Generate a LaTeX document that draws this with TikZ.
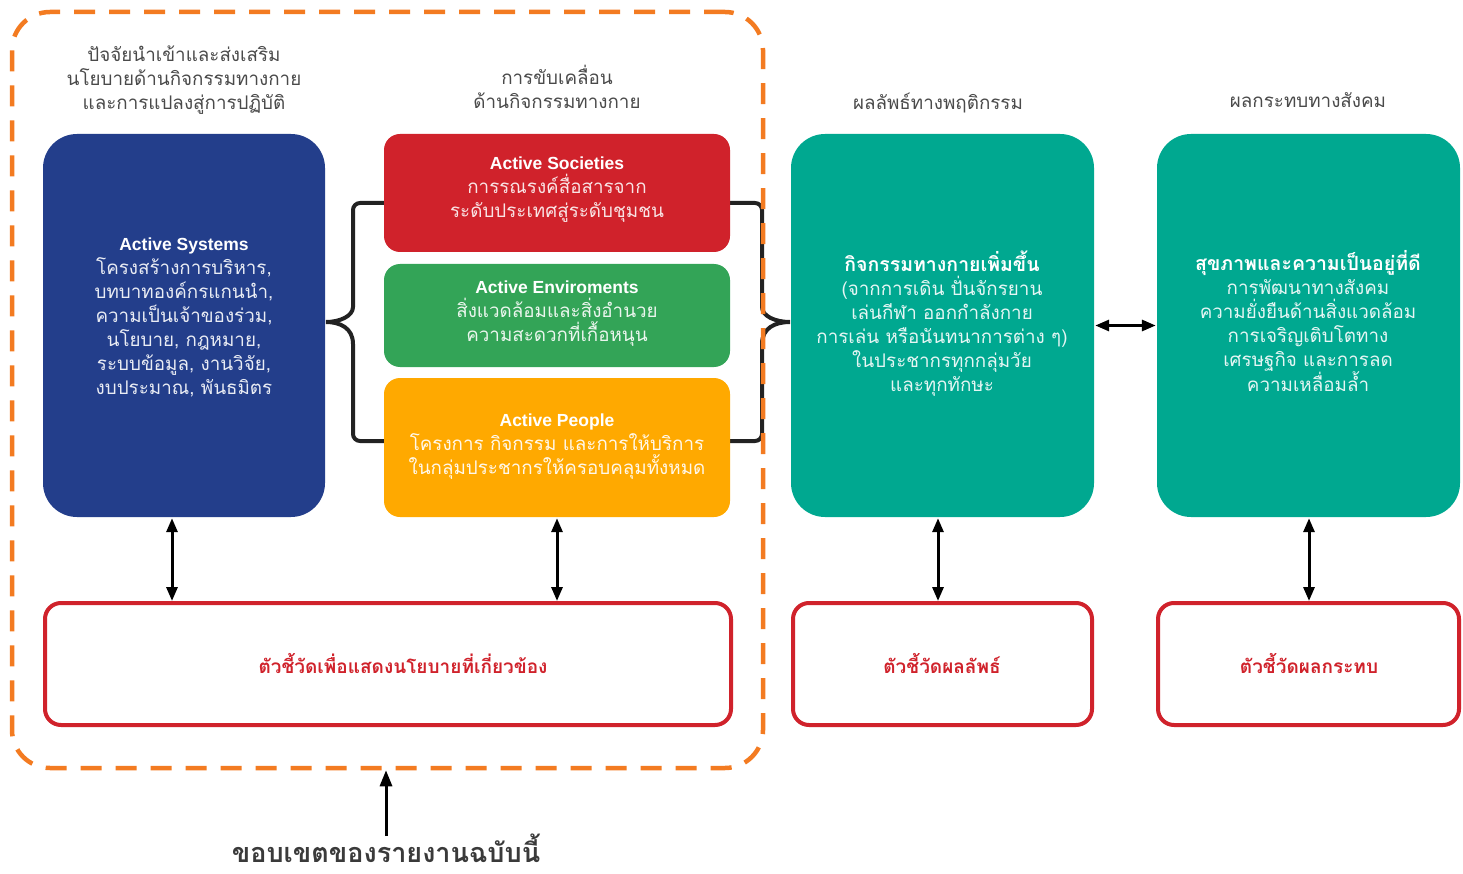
\documentclass[tikz,border=0pt]{standalone}
\usepackage{fontspec}
\setmainfont{Liberation Sans}
\newfontfamily\thai[Script=Thai]{Loma}
\newfontfamily\latinf{Liberation Sans}
\usetikzlibrary{arrows.meta,calc}
\definecolor{cblue}{HTML}{233E8B}
\definecolor{cred}{HTML}{D0222B}
\definecolor{cgreen}{HTML}{33A457}
\definecolor{camber}{HTML}{FFA900}
\definecolor{cteal}{HTML}{00A890}
\definecolor{corange}{HTML}{F37B21}
\definecolor{cgray}{HTML}{4A4A4A}
\definecolor{cdark}{HTML}{3A3A3A}
\definecolor{cbrace}{HTML}{222222}
\newcommand{\ttl}[1]{{\latinf\bfseries\fontsize{17.5}{24}\selectfont\color{white}#1}}
\newcommand{\tttl}[1]{{\bfseries\fontsize{19.5}{24}\selectfont\color{white}#1}}
\tikzset{
  body/.style={font=\thai\fontsize{18.8}{24}\selectfont, align=center, inner sep=0pt},
  fbox/.style={rounded corners=16},
  bigbox/.style={rounded corners=34},
  outbox/.style={draw=cred, line width=4pt, fill=white, rounded corners=16, minimum width=#1, minimum height=122},
  redlab/.style={body, text=cred, font=\thai\bfseries\fontsize{19}{24}\selectfont},
  hdr/.style={font=\thai\fontsize{18.8}{24}\selectfont, text=cgray, align=center},
  brace/.style={draw=cbrace, line width=4pt},
  dbl/.style={{Triangle[length=14pt,width=11pt]}-{Triangle[length=14pt,width=11pt]}, line width=3pt, draw=black},
  frame/.style={draw=corange, line width=4.5pt, dash pattern=on 21pt off 14pt, rounded corners=38}
}
\begin{document}
\begin{tikzpicture}[x=1pt,y=-1pt]
\useasboundingbox (0,0) rectangle (1463,874);
% headers
\node[hdr] (h1) at (184,80) {ปัจจัยนำเข้าและส่งเสริม\\นโยบายด้านกิจกรรมทางกาย\\และการแปลงสู่การปฏิบัติ};
\node[hdr] (h2) at (557,87) {การขับเคลื่อน\\ด้านกิจกรรมทางกาย};
\node[hdr] (h3) at (938,103) {ผลลัพธ์ทางพฤติกรรม};
\node[hdr] (h4) at (1308,100) {ผลกระทบทางสังคม};
% braces
\draw[brace] (384,203) [rounded corners=7] -- (353,203) -- (353,300) [sharp corners] .. controls (353,316) and (340,322) .. (326,322) .. controls (340,322) and (353,328) .. (353,344) [rounded corners=7] -- (353,441) -- (384,441);
\draw[brace] (730,203) [rounded corners=7] -- (762,203) -- (762,300) [sharp corners] .. controls (762,316) and (775,322) .. (790,322) .. controls (775,322) and (762,328) .. (762,344) [rounded corners=7] -- (762,441) -- (730,441);
% frame
\node[frame, minimum width=751, minimum height=756] (frame) at (387.5,390) {};
% boxes
\node[bigbox, fill=cblue, minimum width=282, minimum height=383] (sys) at (184,325.5) {};
\node[body, text=white!90!cblue] (sysT) at (184,317.5)
  {\ttl{Active Systems}\\โครงสร้างการบริหาร,\\บทบาทองค์กรแกนนำ,\\ความเป็นเจ้าของร่วม,\\นโยบาย, กฎหมาย,\\ระบบข้อมูล, งานวิจัย,\\งบประมาณ, พันธมิตร};
\node[fbox, fill=cred, minimum width=346, minimum height=118] (soc) at (557,193) {};
\node[body, text=white!88!cred] (socT) at (557,190)
  {\ttl{Active Societies}\\การรณรงค์สื่อสารจาก\\ระดับประเทศสู่ระดับชุมชน};
\node[fbox, fill=cgreen, minimum width=346, minimum height=103] (env) at (557,315.5) {};
\node[body, text=white!90!cgreen] (envT) at (557,313.5)
  {\ttl{Active Enviroments}\\สิ่งแวดล้อมและสิ่งอำนวย\\ความสะดวกที่เกื้อหนุน};
\node[fbox, fill=camber, minimum width=346, minimum height=139] (ppl) at (557,447.5) {};
\node[body, text=white!92!camber] (pplT) at (557,446.5)
  {\ttl{Active People}\\โครงการ กิจกรรม และการให้บริการ\\ในกลุ่มประชากรให้ครอบคลุมทั้งหมด};
\node[bigbox, fill=cteal, minimum width=303, minimum height=383] (t1) at (942.5,325.5) {};
\node[body, text=white!90!cteal] (t1T) at (942,323.5)
  {\tttl{กิจกรรมทางกายเพิ่มขึ้น}\\(จากการเดิน ปั่นจักรยาน\\เล่นกีฬา ออกกำลังกาย\\การเล่น หรือนันทนาการต่าง ๆ)\\ในประชากรทุกกลุ่มวัย\\และทุกทักษะ};
\node[bigbox, fill=cteal, minimum width=303, minimum height=383] (t2) at (1308.5,325.5) {};
\node[body, text=white!90!cteal] (t2T) at (1308,321)
  {\tttl{สุขภาพและความเป็นอยู่ที่ดี}\\การพัฒนาทางสังคม\\ความยั่งยืนด้านสิ่งแวดล้อม\\การเจริญเติบโตทาง\\เศรษฐกิจ และการลด\\ความเหลื่อมล้ำ};
% indicator boxes
\node[outbox=686] (oa) at (388,664) {};
\node[redlab] (oal) at (403,663) {ตัวชี้วัดเพื่อแสดงนโยบายที่เกี่ยวข้อง};
\node[outbox=299] (ob) at (942.5,664) {};
\node[redlab] (obl) at (942,663) {ตัวชี้วัดผลลัพธ์};
\node[outbox=301] (oc) at (1308.5,664) {};
\node[redlab] (ocl) at (1309,663) {ตัวชี้วัดผลกระทบ};
% arrows
\draw[dbl] ($(sys.south)+(-12,1)$) -- ($(sys.south |- oa.north)+(-12,0)$);
\draw[dbl] ($(ppl.south)+(0,1)$) -- (ppl.south |- oa.north);
\draw[dbl] ($(t1.south)+(-4.5,1)$) -- ($(t1.south |- ob.north)+(-4.5,0)$);
\draw[dbl] ($(t2.south)+(0.5,1)$) -- ($(t2.south |- oc.north)+(0.5,0)$);
\draw[dbl] ($(t1.east)+(1,0)$) -- ($(t2.west)+(-1,0)$);
% scope label
\node[font=\thai\bfseries\fontsize{27}{30}\selectfont, text=cdark, anchor=base, inner sep=0pt, text depth=0pt] (scope) at (386,862) {ขอบเขตของรายงานฉบับนี้};
\coordinate (stail) at (386,836);
\draw[-{Triangle[length=16pt,width=12pt]}, line width=3pt] (stail) -- (stail |- frame.south);
\end{tikzpicture}
\end{document}
